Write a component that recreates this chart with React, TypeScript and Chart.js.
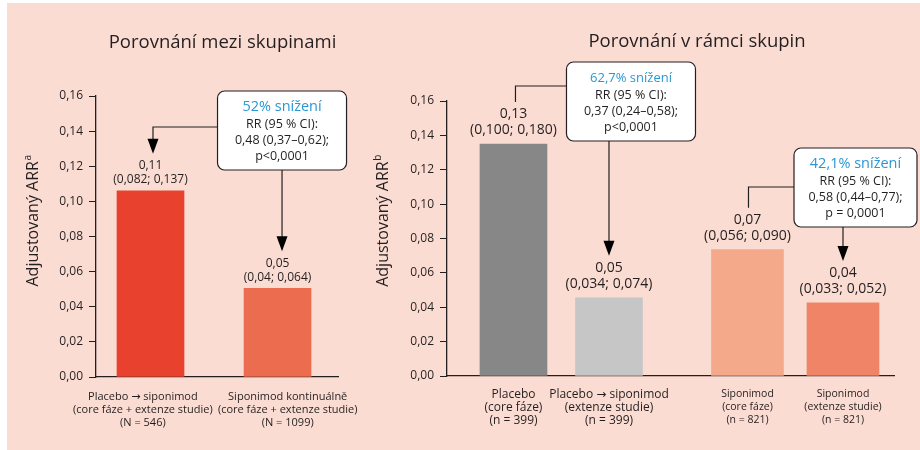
import React, { useEffect, useRef } from "react";
import { Chart, registerables } from "chart.js";

Chart.register(...registerables);

const FONT = "'Open Sans', 'DejaVu Sans', sans-serif";
const INK = "#231f20";
const BLUE = "#2b97d5";

// ---------- shared axis data ----------
const yTickValues = [0, 0.02, 0.04, 0.06, 0.08, 0.1, 0.12, 0.14, 0.16];
const yAxisTitle = "Adjustovaný ARR";

// ---------- left panel: Porovnání mezi skupinami ----------
const leftTitle = "Porovnání mezi skupinami";
const leftCategories = [
  ["Placebo → siponimod", "(core fáze + extenze studie)", "(N = 546)"],
  ["Siponimod kontinuálně", "(core fáze + extenze studie)", "(N = 1099)"],
];
const leftValues = [0.106, 0.0505];
const leftValueLabels = ["0,11", "0,05"];
const leftCILabels = ["(0,082; 0,137)", "(0,04; 0,064)"];
const leftColors = ["#e8422e", "#ec6c4f"];
const leftBoxLines = ["52% snížení", "RR (95 % CI):", "0,48 (0,37–0,62);", "p<0,0001"];

// ---------- right panel: Porovnání v rámci skupin ----------
const rightTitle = "Porovnání v rámci skupin";
const rightCategories = [
  ["Placebo", "(core fáze)", "(n = 399)"],
  ["Placebo → siponimod", "(extenze studie)", "(n = 399)"],
  ["Siponimod", "(core fáze)", "(n = 821)"],
  ["Siponimod", "(extenze studie)", "(n = 821)"],
];
const rightValues = [0.135, 0.0455, 0.0735, 0.0425];
const rightValueLabels = ["0,13", "0,05", "0,07", "0,04"];
const rightCILabels = ["(0,100; 0,180)", "(0,034; 0,074)", "(0,056; 0,090)", "(0,033; 0,052)"];
const rightColors = ["#878787", "#c6c6c6", "#f5a98b", "#f08467"];
const rightBoxPlaceboLines = ["62,7% snížení", "RR (95 % CI):", "0,37 (0,24–0,58);", "p<0,0001"];
const rightBoxSiponimodLines = ["42,1% snížení", "RR (95 % CI):", "0,58 (0,44–0,77);", "p = 0,0001"];

// layout helpers (not data)
const GROUP_GAP = 0.45;
const leftPositions = leftValues.map((_, i) => i);
const rightPositions = rightValues.map((_, i) => i + (i >= 2 ? GROUP_GAP : 0));

function fmtTick(v: number) {
  return Number(v).toFixed(2).replace(".", ",");
}

function drawYTitle(ctx: CanvasRenderingContext2D, cx: number, cy: number, sup: string) {
  ctx.save();
  ctx.translate(cx, cy);
  ctx.rotate(-Math.PI / 2);
  ctx.fillStyle = INK;
  ctx.textBaseline = "middle";
  ctx.textAlign = "left";
  ctx.font = `16px ${FONT}`;
  const w1 = ctx.measureText(yAxisTitle).width;
  ctx.font = `10px ${FONT}`;
  const w2 = ctx.measureText(sup).width;
  const start = -(w1 + w2) / 2;
  ctx.font = `16px ${FONT}`;
  ctx.fillText(yAxisTitle, start, 0);
  ctx.font = `10px ${FONT}`;
  ctx.fillText(sup, start + w1 + 0.5, -5);
  ctx.restore();
}

type Link = { bar: number; from: "left" | "bottom"; dx: number; y?: number; arrow: boolean };
type Box = { lines: string[]; titleSize: number; anchorBar: number; dx: number; dy: number; w: number; h: number; links: Link[] };
type Spec = {
  title: string; titleX: number; titleY: number;
  yTitleX: number; yTitleY: number; sup: string;
  positions: number[]; values: number[]; valueLabels: string[]; ciLabels: string[];
  labelSize: number; gap1: number; gap2: number;
  boxes: Box[];
};

function overlay(spec: Spec) {
  return {
    id: "overlay",
    afterDraw(chart: any) {
      const { ctx, chartArea } = chart;
      const xs = chart.scales.x;
      const ys = chart.scales.y;
      ctx.save();
      ctx.fillStyle = INK;
      ctx.textAlign = "center";
      ctx.textBaseline = "middle";
      ctx.font = `18.5px ${FONT}`;
      ctx.fillText(spec.title, spec.titleX, spec.titleY);
      drawYTitle(ctx, spec.yTitleX, spec.yTitleY, spec.sup);

      ctx.textAlign = "center";
      ctx.textBaseline = "middle";
      ctx.font = `${spec.labelSize}px ${FONT}`;
      ctx.fillStyle = INK;
      spec.values.forEach((v, i) => {
        const x = xs.getPixelForValue(spec.positions[i]);
        const top = ys.getPixelForValue(v);
        ctx.fillText(spec.valueLabels[i], x, top - spec.gap1);
        ctx.fillText(spec.ciLabels[i], x, top - spec.gap2);
      });

      for (const b of spec.boxes) {
        const cx = xs.getPixelForValue(spec.positions[b.anchorBar]) + b.dx;
        const top = chartArea.top + b.dy;
        const left = cx - b.w / 2;
        ctx.strokeStyle = INK;
        ctx.lineWidth = 1.2;
        for (const c of b.links) {
          const tx = xs.getPixelForValue(spec.positions[c.bar]) + c.dx;
          const ty = ys.getPixelForValue(spec.values[c.bar]) - spec.gap1 - 12;
          const endY = c.arrow ? ty - 14 : ty;
          ctx.beginPath();
          if (c.from === "left") {
            const yy = top + (c.y || 0);
            ctx.moveTo(left, yy);
            ctx.lineTo(tx, yy);
            ctx.lineTo(tx, endY);
          } else {
            ctx.moveTo(tx, top + b.h);
            ctx.lineTo(tx, endY);
          }
          ctx.stroke();
          if (c.arrow) {
            ctx.beginPath();
            ctx.moveTo(tx - 5.5, ty - 15);
            ctx.lineTo(tx + 5.5, ty - 15);
            ctx.lineTo(tx, ty);
            ctx.closePath();
            ctx.fillStyle = "#000";
            ctx.fill();
          }
        }
        ctx.beginPath();
        (ctx as any).roundRect(left, top, b.w, b.h, 7);
        ctx.fillStyle = "#ffffff";
        ctx.fill();
        ctx.lineWidth = 1.2;
        ctx.strokeStyle = INK;
        ctx.stroke();
        ctx.textAlign = "center";
        ctx.textBaseline = "middle";
        ctx.fillStyle = BLUE;
        ctx.font = `${b.titleSize}px ${FONT}`;
        ctx.fillText(b.lines[0], cx, top + 16);
        ctx.fillStyle = INK;
        ctx.font = `12.5px ${FONT}`;
        ctx.fillText(b.lines[1], cx, top + 33.5);
        ctx.fillText(b.lines[2], cx, top + 49.5);
        ctx.fillText(b.lines[3], cx, top + 65);
      }
      ctx.restore();
    },
  };
}

function yScale(width: number) {
  return {
    min: 0,
    max: 0.16,
    afterBuildTicks: (s: any) => {
      s.ticks = yTickValues.map((v) => ({ value: v }));
    },
    afterFit: (s: any) => {
      s.width = width;
    },
    grid: { display: true, drawOnChartArea: false, drawTicks: true, tickLength: 7, color: INK, lineWidth: 1 },
    border: { display: true, color: INK, width: 1.3 },
    ticks: { padding: 6, color: INK, font: { size: 12, family: FONT }, callback: (v: any) => fmtTick(v) },
  };
}

function buildLeft(canvas: HTMLCanvasElement) {
  const labelShift = [-0.06, 0.08];
  return new Chart(canvas, {
    type: "bar",
    data: {
      datasets: [
        {
          data: leftValues.map((v, i) => ({ x: leftPositions[i], y: v })),
          backgroundColor: leftColors,
          barThickness: 67,
          grouped: false,
          borderWidth: 0,
        } as any,
      ],
    },
    options: {
      animation: false,
      responsive: false,
      maintainAspectRatio: false,
      layout: { padding: { left: 46, right: 582, top: 96, bottom: 0 } },
      plugins: { legend: { display: false }, tooltip: { enabled: false }, title: { display: false } },
      scales: {
        x: {
          type: "linear",
          min: -0.429,
          max: 1.476,
          offset: false,
          grid: { display: true, drawOnChartArea: false, drawTicks: false, offset: false },
          border: { display: true, color: INK, width: 1.3 },
          afterBuildTicks: (s: any) => {
            s.ticks = leftPositions.map((p, i) => ({ value: p + labelShift[i] }));
          },
          afterFit: (s: any) => {
            s.height = 73;
          },
          ticks: {
            autoSkip: false,
            maxRotation: 0,
            minRotation: 0,
            padding: 13,
            color: INK,
            font: { size: 11, family: FONT, lineHeight: "13px" },
            callback: (_v: any, i: number) => leftCategories[i],
          },
        },
        y: yScale(50),
      } as any,
    },
    plugins: [
      overlay({
        title: leftTitle, titleX: 222.5, titleY: 43,
        yTitleX: 33, yTitleY: 221, sup: "a",
        positions: leftPositions, values: leftValues, valueLabels: leftValueLabels, ciLabels: leftCILabels,
        labelSize: 12, gap1: 25, gap2: 11,
        boxes: [
          {
            lines: leftBoxLines, titleSize: 14.5, anchorBar: 1, dx: 4.5, dy: -5, w: 129, h: 79,
            links: [
              { bar: 0, from: "left", dx: 2.5, y: 36, arrow: true },
              { bar: 1, from: "bottom", dx: 4.5, arrow: true },
            ],
          },
        ],
      }),
    ],
  });
}

function buildRight(canvas: HTMLCanvasElement) {
  return new Chart(canvas, {
    type: "bar",
    data: {
      datasets: [
        {
          data: [0, 1].map((i) => ({ x: rightPositions[i], y: rightValues[i] })),
          backgroundColor: rightColors.slice(0, 2),
          barThickness: 67,
          grouped: false,
          borderWidth: 0,
        } as any,
        {
          data: [2, 3].map((i) => ({ x: rightPositions[i], y: rightValues[i] })),
          backgroundColor: rightColors.slice(2, 4),
          barThickness: 72,
          grouped: false,
          borderWidth: 0,
        } as any,
      ],
    },
    options: {
      animation: false,
      responsive: false,
      maintainAspectRatio: false,
      layout: { padding: { left: 397, right: 26, top: 101, bottom: 0 } },
      plugins: { legend: { display: false }, tooltip: { enabled: false }, title: { display: false } },
      scales: {
        x: {
          type: "linear",
          min: -0.696,
          max: 3.984,
          offset: false,
          grid: { display: true, drawOnChartArea: false, drawTicks: false, offset: false },
          border: { display: true, color: INK, width: 1.3 },
          afterBuildTicks: (s: any) => {
            s.ticks = rightPositions.map((p) => ({ value: p }));
          },
          afterFit: (s: any) => {
            s.height = 74;
          },
          ticks: {
            autoSkip: false,
            maxRotation: 0,
            minRotation: 0,
            padding: 12,
            color: INK,
            font: (c: any) => ({ size: c.index >= 2 ? 10.5 : 12, family: FONT, lineHeight: "13px" }),
            callback: (_v: any, i: number) => rightCategories[i],
          },
        },
        y: yScale(50),
      } as any,
    },
    plugins: [
      overlay({
        title: rightTitle, titleX: 697, titleY: 42,
        yTitleX: 383, yTitleY: 221, sup: "b",
        positions: rightPositions, values: rightValues, valueLabels: rightValueLabels, ciLabels: rightCILabels,
        labelSize: 14, gap1: 30, gap2: 14,
        boxes: [
          {
            lines: rightBoxPlaceboLines, titleSize: 13, anchorBar: 1, dx: 22, dy: -39, w: 129, h: 79,
            links: [
              { bar: 0, from: "left", dx: 2, y: 24, arrow: false },
              { bar: 1, from: "bottom", dx: 0, arrow: true },
            ],
          },
          {
            lines: rightBoxSiponimodLines, titleSize: 14.5, anchorBar: 3, dx: 12.5, dy: 47, w: 123, h: 79,
            links: [
              { bar: 2, from: "left", dx: 1, y: 39, arrow: false },
              { bar: 3, from: "bottom", dx: 0, arrow: true },
            ],
          },
        ],
      }),
    ],
  });
}

export default function App() {
  const leftRef = useRef<HTMLCanvasElement>(null);
  const rightRef = useRef<HTMLCanvasElement>(null);

  useEffect(() => {
    Chart.defaults.color = INK;
    Chart.defaults.font.family = FONT;
    const a = buildLeft(leftRef.current!);
    const b = buildRight(rightRef.current!);
    return () => {
      a.destroy();
      b.destroy();
    };
  }, []);

  return (
    <div style={{ position: "fixed", left: 0, top: 0, width: 920, height: 450, background: "#ffffff", overflow: "hidden" }}>
      <div style={{ position: "absolute", left: 7, top: 3, right: 0, bottom: 0, background: "#fbdcd2" }} />
      <canvas ref={leftRef} width={920} height={450} style={{ position: "absolute", left: 0, top: 0 }} />
      <canvas ref={rightRef} width={920} height={450} style={{ position: "absolute", left: 0, top: 0 }} />
    </div>
  );
}
